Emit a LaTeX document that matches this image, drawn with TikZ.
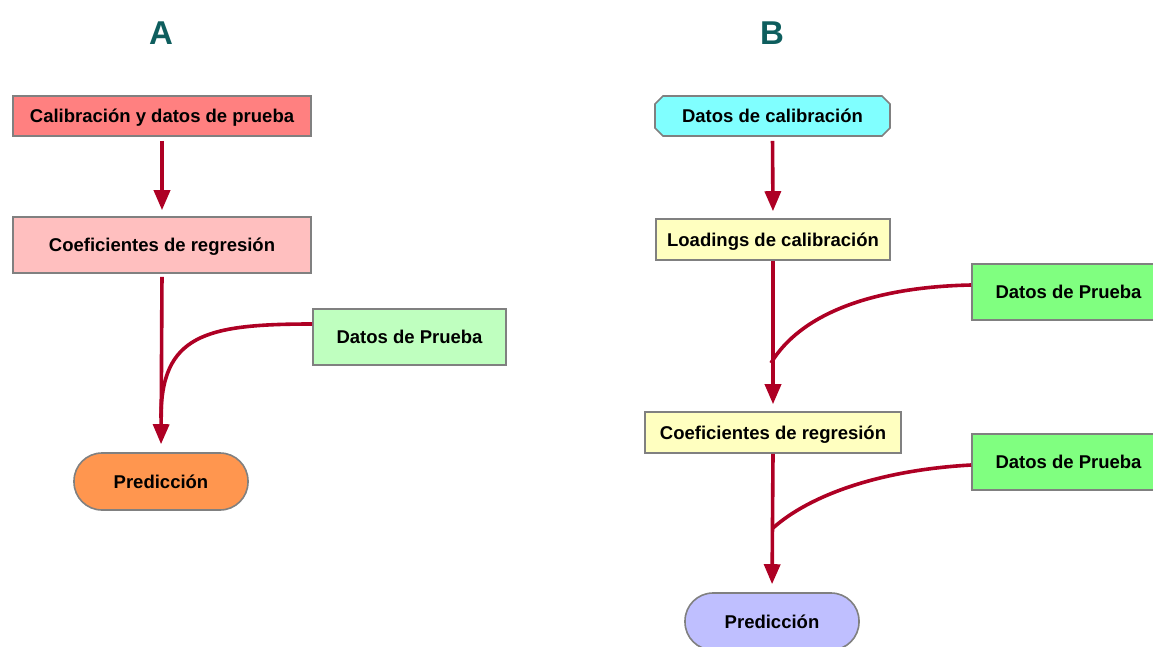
\documentclass[tikz,border=0pt]{standalone}
\usepackage{fontspec}
\setmainfont{Liberation Sans}
\usetikzlibrary{arrows.meta,shapes.misc}
\definecolor{arrowred}{HTML}{AE0024}
\definecolor{bordergray}{HTML}{808080}
\definecolor{titleteal}{HTML}{0E5E5E}
\definecolor{cA1}{HTML}{FF8080}
\definecolor{cA2}{HTML}{FFBFBF}
\definecolor{cA3}{HTML}{BFFFBF}
\definecolor{cA4}{HTML}{FF964F}
\definecolor{cB1}{HTML}{80FFFF}
\definecolor{cB2}{HTML}{FFFFC0}
\definecolor{cB3}{HTML}{80FF80}
\definecolor{cB4}{HTML}{BFBFFF}
\tikzset{
  box/.style={draw=bordergray, line width=1.6pt, inner sep=0pt,
    text height=16pt, text depth=2.8pt,
    font=\fontsize{18.5}{20}\selectfont\bfseries, text=black},
  pill/.style={box, rounded corners=28pt},
  chbox/.style={box, chamfered rectangle, chamfered rectangle xsep=4pt, chamfered rectangle ysep=4pt},
  conn/.style={draw=arrowred, line width=3.6pt},
  arr/.style={conn, -{Triangle[length=20pt,width=16pt]}},
  ttl/.style={text=titleteal, font=\fontsize{33}{36}\selectfont\bfseries}
}
\begin{document}
\begin{tikzpicture}[x=1pt,y=-1pt]
\useasboundingbox (0,0) rectangle (1153,646);
\clip (0,0) rectangle (1153,646);
% titles
\node[ttl] (tA) at (161,33) {A};
\node[ttl] (tB) at (772,33) {B};
% panel A
\node[box, fill=cA1, minimum width=298pt, minimum height=40pt] (a1) at (162,116) {Calibración y datos de prueba};
\node[box, fill=cA2, minimum width=298pt, minimum height=56pt] (a2) at (162,245) {Coeficientes de regresión};
\node[box, fill=cA3, minimum width=193pt, minimum height=56pt] (a3) at (409.5,337) {Datos de Prueba};
\node[pill, fill=cA4, minimum width=174pt, minimum height=57pt] (a4) at (161,481.5) {Predicción};
\coordinate (ja) at (161,418);
\draw[arr, shorten <=4pt, shorten >=6pt] (a1.south) -- (a2.north);
\draw[arr, shorten <=3pt, shorten >=8pt] (a2.south) -- (a4.north);
\draw[conn] ([yshift=13pt]a3.west) .. controls (205,324) and (161,335) .. (ja);
% panel B
\node[chbox, fill=cB1, minimum width=235pt, minimum height=40pt] (b1) at (772.5,116) {Datos de calibración};
\node[box, fill=cB2, minimum width=234pt, minimum height=41pt] (b2) at (773,239.5) {Loadings de calibración};
\node[box, fill=cB3, minimum width=193pt, minimum height=56pt] (b3) at (1068.5,292) {Datos de Prueba};
\node[box, fill=cB2, minimum width=256pt, minimum height=41pt] (b4) at (773,432.5) {Coeficientes de regresión};
\node[box, fill=cB3, minimum width=193pt, minimum height=56pt] (b5) at (1068.5,462) {Datos de Prueba};
\node[pill, fill=cB4, minimum width=174pt, minimum height=57pt] (b6) at (772,621.5) {Predicción};
\coordinate (jb1) at (771,363);
\coordinate (jb2) at (773,528);
\draw[arr, shorten <=4pt, shorten >=7pt] (b1.south) -- (b2.north);
\draw[arr, shorten <=0pt, shorten >=7pt] (b2.south) -- (b4.north);
\draw[arr, shorten <=0pt, shorten >=8pt] (b4.south) -- (b6.north);
\draw[conn] ([yshift=7pt]b3.west) .. controls (870,287) and (800,315) .. (jb1);
\draw[conn] ([yshift=-3pt]b5.west) .. controls (880,470) and (810,495) .. (jb2);
\end{tikzpicture}
\end{document}
